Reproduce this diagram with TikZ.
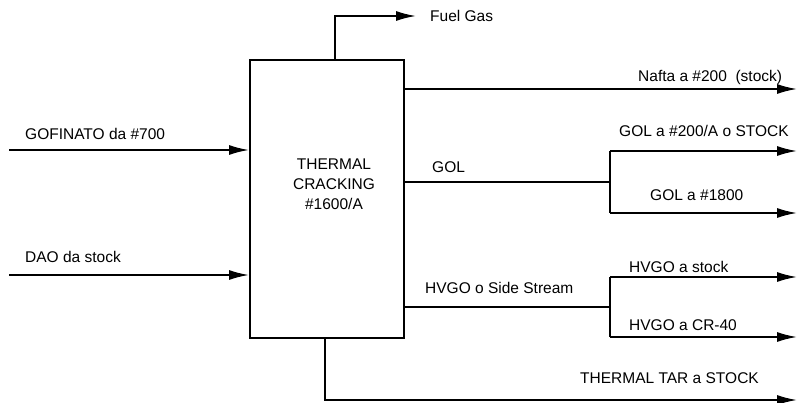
\documentclass[tikz,border=0pt]{standalone}
\usepackage{fontspec}
\setmainfont{Liberation Sans}
\usetikzlibrary{arrows.meta}
\begin{document}
\begin{tikzpicture}[x=1pt,y=-1pt,
  pipe/.style={line width=1.8pt},
  flow/.style={pipe,-{Latex[length=20pt,width=10pt]}},
  lbl/.style={anchor=base west,inner sep=0pt,font=\fontsize{15.5}{18}\selectfont}]
\useasboundingbox (0,0) rectangle (797,403);
% unit
\node[draw,line width=1.8pt,minimum width=154pt,minimum height=278pt,inner sep=0pt,anchor=north west] (tc) at (249,59) {};
\node[align=center,inner sep=0pt,font=\fontsize{15.5}{20}\selectfont] (tct) at (334,184) {THERMAL\\CRACKING\\\#1600/A};
% coordinates
\coordinate (gin) at (9,150);
\coordinate (din) at (9,275);
\coordinate (fgup) at (335,16);
\coordinate (fgend) at (416,16);
\coordinate (nend) at (797,89);
\coordinate (golj) at (610,182);
\coordinate (gol1) at (797,151);
\coordinate (gol2) at (797,213);
\coordinate (hvj) at (610,307);
\coordinate (hv1) at (797,277);
\coordinate (hv2) at (797,337);
\coordinate (tardown) at (325,400);
\coordinate (tarend) at (797,400);
% feeds
\draw[flow] (gin) -- (gin -| tc.west);
\draw[flow] (din) -- (din -| tc.west);
% fuel gas
\draw[flow] (fgup |- tc.north) -- (fgup) -- (fgend);
% nafta
\draw[flow] (nend -| tc.east) -- (nend);
% GOL
\draw[pipe] (golj -| tc.east) -- (golj);
\draw[flow] (golj |- gol1) -- (gol1);
\draw[flow] (golj |- gol2) -- (gol2);
\draw[pipe] (golj |- gol1) -- (golj |- gol2);
% HVGO
\draw[pipe] (hvj -| tc.east) -- (hvj);
\draw[flow] (hvj |- hv1) -- (hv1);
\draw[flow] (hvj |- hv2) -- (hv2);
\draw[pipe] (hvj |- hv1) -- (hvj |- hv2);
% tar
\draw[flow] (tardown |- tc.south) -- (tardown) -- (tarend);
% labels
\node[lbl] (l1) at (25,140) {GOFINATO da \#700};
\node[lbl] (l2) at (25,262) {DAO da stock};
\node[lbl] (l3) at (430,22) {Fuel Gas};
\node[lbl] (l4) at (638,82) {Nafta a \#200\ \ (stock)};
\node[lbl] (l5) at (619,137) {GOL a \#200/A o STOCK};
\node[lbl] (l6) at (432,173) {GOL};
\node[lbl] (l7) at (650,201) {GOL a \#1800};
\node[lbl] (l8) at (629,272) {HVGO a stock};
\node[lbl] (l9) at (425,293) {HVGO o Side Stream};
\node[lbl] (l10) at (629,330) {HVGO a CR-40};
\node[lbl] (l11) at (580,383) {THERMAL TAR a STOCK};
\end{tikzpicture}
\end{document}
